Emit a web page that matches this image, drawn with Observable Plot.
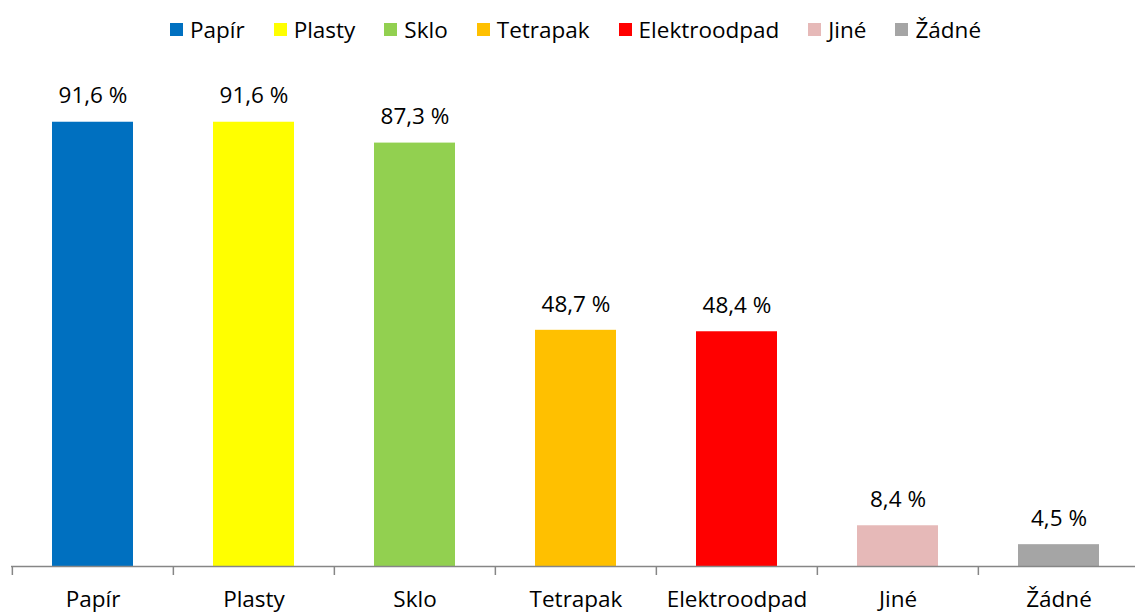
<!DOCTYPE html>
<html>
<head>
<meta charset="utf-8">
<script src="https://cdn.jsdelivr.net/npm/d3@7"></script>
<script src="https://cdn.jsdelivr.net/npm/@observablehq/plot@0.6"></script>
<style>
  html, body { margin: 0; padding: 0; background: #fff; }
  body { width: 1135px; height: 613px; overflow: hidden; font-family: "Open Sans", sans-serif; }
  #legend { height: 50px; display: flex; justify-content: center; align-items: center; font-size: 22.5px; color: #000; padding-left: 16px; padding-top: 8px; box-sizing: border-box; }
  #legend .item { display: flex; align-items: center; margin: 0 14.5px; }
  #legend .sw { width: 13px; height: 13px; margin-right: 7px; }
  #chart svg { display: block; }
</style>
</head>
<body>
<div id="legend"></div>
<div id="chart"></div>
<script>
const categories = ["Papír", "Plasty", "Sklo", "Tetrapak", "Elektroodpad", "Jiné", "Žádné"];
const values = [91.6, 91.6, 87.3, 48.7, 48.4, 8.4, 4.5];
const colors = ["#0070C0", "#FFFF00", "#92D050", "#FFC000", "#FF0000", "#E6B9B8", "#A5A5A5"];

const data = categories.map((c, i) => ({category: c, value: values[i]}));
const fmt = v => v.toFixed(1).replace(".", ",") + "\u00a0%";

// legend
const legend = document.getElementById("legend");
categories.forEach((c, i) => {
  const item = document.createElement("div");
  item.className = "item";
  const sw = document.createElement("span");
  sw.className = "sw";
  sw.style.background = colors[i];
  const t = document.createElement("span");
  t.textContent = c;
  item.appendChild(sw);
  item.appendChild(t);
  legend.appendChild(item);
});

const plot = Plot.plot({
  width: 1135,
  height: 563,
  marginTop: 31,
  marginBottom: 47,
  marginLeft: 11,
  marginRight: 0,
  style: {fontFamily: "Open Sans, sans-serif", color: "#000", background: "#fff"},
  x: {domain: categories, range: [11, 1140], paddingInner: 0.5, paddingOuter: 0.25, label: null},
  y: {domain: [0, 100], axis: null},
  color: {domain: categories, range: colors},
  marks: [
    Plot.barY(data, {x: "category", y: "value", fill: "category"}),
    Plot.ruleY([0], {stroke: "#868686", strokeWidth: 1.5}),
    Plot.axisX({tickSize: 9, text: null, stroke: "#868686", strokeWidth: 1.5, dx: -80.64}),
    Plot.axisX({tickSize: 0, tickPadding: 25, fontSize: 22.5, fill: "#000"}),
    Plot.text(data, {x: "category", y: "value", text: d => fmt(d.value), lineAnchor: "middle", dy: -26, fontSize: 22.5, fill: "#000"})
  ]
});
document.getElementById("chart").appendChild(plot);
</script>
</body>
</html>
